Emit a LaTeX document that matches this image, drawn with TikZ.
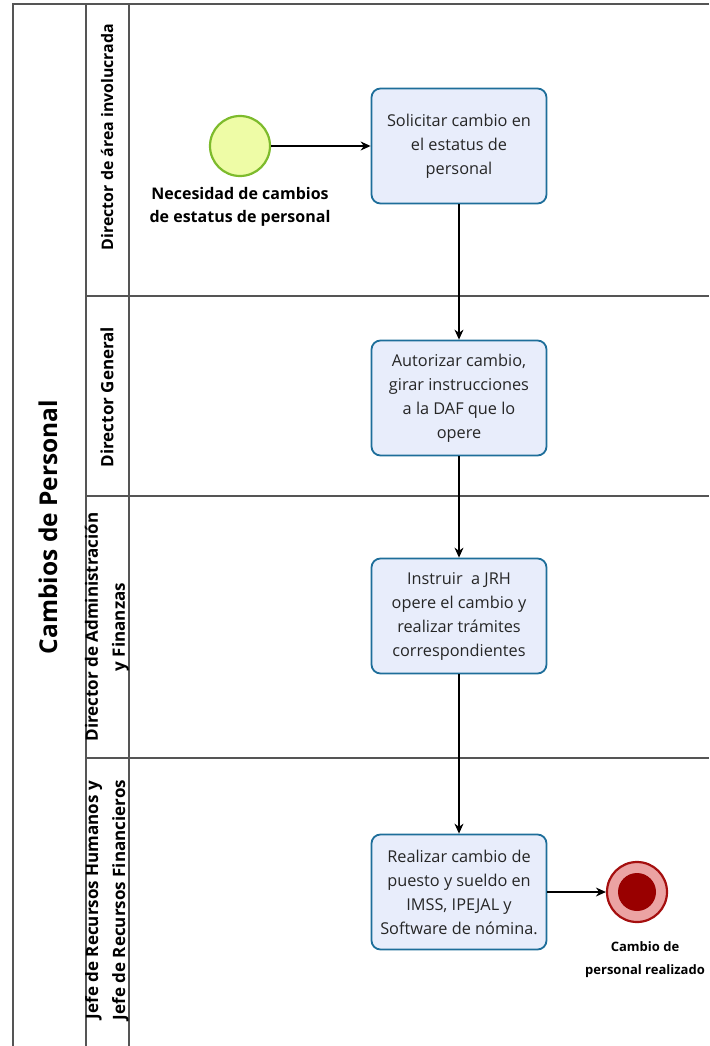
\documentclass[tikz,border=0pt]{standalone}
\usepackage{fontspec}
\setmainfont{Open Sans}
\usetikzlibrary{arrows.meta}
\definecolor{poolline}{HTML}{555555}
\definecolor{taskfill}{HTML}{E8EDFB}
\definecolor{taskdraw}{HTML}{1E6E9A}
\definecolor{startfill}{HTML}{EEFCA6}
\definecolor{startdraw}{HTML}{7DBB2C}
\definecolor{endfill}{HTML}{EBA3A3}
\definecolor{enddraw}{HTML}{A50F0F}
\definecolor{endcore}{HTML}{990000}
\begin{document}
\begin{tikzpicture}[x=1pt,y=-1pt,
  pool/.style={draw=poolline,line width=1.6pt},
  task/.style={rectangle,rounded corners=9pt,draw=taskdraw,fill=taskfill,line width=1.8pt,
    minimum width=175pt,minimum height=115pt,align=center,inner sep=4pt,
    font=\fontsize{16.3}{24}\selectfont,text=black!85},
  evlabel/.style={align=center,font=\bfseries\fontsize{16}{23}\selectfont},
  lanelabel/.style={rotate=90,align=center,font=\bfseries\fontsize{17}{27}\selectfont},
  flow/.style={draw=black,line width=1.2pt,-{Stealth[length=10pt,width=9pt]}}]
\useasboundingbox (0,0) rectangle (709,1046);

% pool frame and lane borders
\draw[pool] (709,4) -- (13,4) -- (13,1046);
\draw[pool] (86,4) -- (86,1046);
\draw[pool] (129,4) -- (129,1046);
\draw[pool] (86,296) -- (709,296);
\draw[pool] (86,496) -- (709,496);
\draw[pool] (86,758) -- (709,758);

% pool and lane titles
\node[rotate=90,font=\bfseries\fontsize{24.5}{28}\selectfont] (pooltitle) at (48,527) {Cambios de Personal};
\node[lanelabel,font=\bfseries\fontsize{15.9}{27}\selectfont] (lane1) at (107,137) {Director de área involucrada};
\node[lanelabel] (lane2) at (107,397) {Director General};
\node[lanelabel] (lane3) at (107,627) {Director de Administración\\y Finanzas};
\node[lanelabel] (lane4) at (107,900) {Jefe de Recursos Humanos y\\Jefe de Recursos Financieros};

% events
\node[circle,minimum size=60pt,inner sep=0pt,fill=startfill,draw=startdraw,line width=2.2pt] (start) at (240,146) {};
\node[evlabel] (startlbl) at (240,207) {Necesidad de cambios\\de estatus de personal};
\node[circle,minimum size=60pt,inner sep=0pt,fill=endfill,draw=enddraw,line width=2.2pt] (end) at (637,892) {};
\node[circle,minimum size=38pt,inner sep=0pt,fill=endcore] (endcore) at (end) {};
\node[evlabel,font=\bfseries\fontsize{13}{23}\selectfont] (endlbl) at (645,960) {Cambio de\\personal realizado};

% tasks
\node[task] (t1) at (459,146) {Solicitar cambio en\\el estatus de\\personal};
\node[task] (t2) at (459,398) {Autorizar cambio,\\girar instrucciones\\a la DAF que lo\\opere};
\node[task] (t3) at (459,616) {Instruir~ a JRH\\opere el cambio y\\realizar trámites\\correspondientes};
\node[task] (t4) at (459,892) {Realizar cambio de\\puesto y sueldo en\\IMSS, IPEJAL y\\Software de nómina.};

% sequence flows
\draw[flow] (start) -- (t1);
\draw[flow] (t1) -- (t2);
\draw[flow] (t2) -- (t3);
\draw[flow] (t3) -- (t4);
\draw[flow] (t4) -- (end);
\end{tikzpicture}
\end{document}
